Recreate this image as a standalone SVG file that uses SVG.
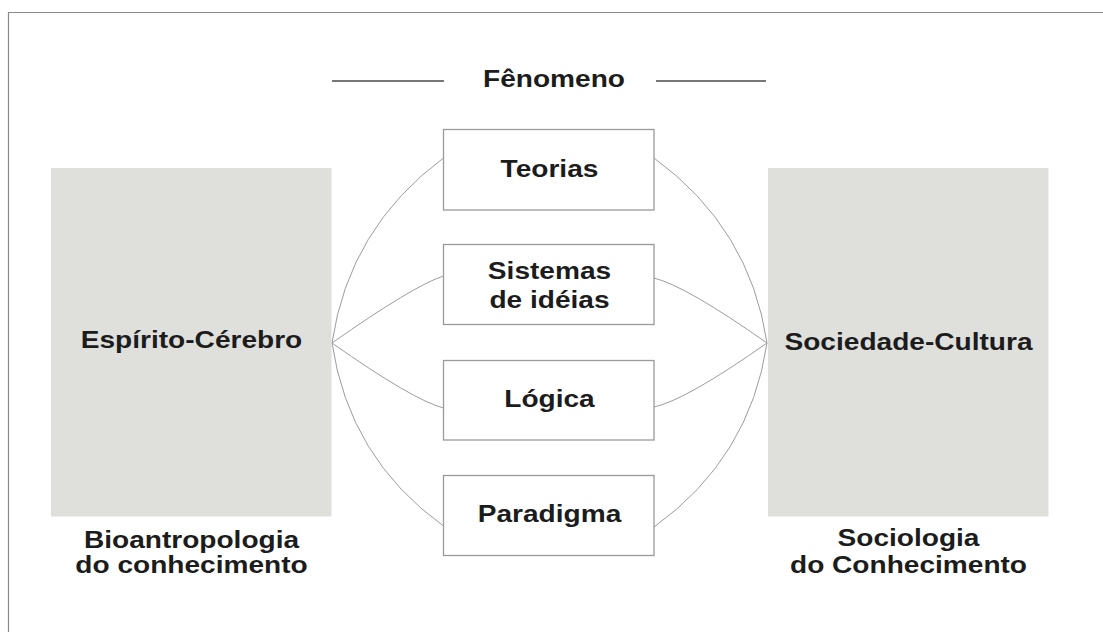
<svg xmlns="http://www.w3.org/2000/svg" width="1103" height="632" viewBox="0 0 1103 632">
<style>
.t{font-family:"Liberation Sans",Arial,sans-serif;font-weight:bold;font-size:24px;fill:#1c1c1c;text-anchor:middle}
.big{fill:#dfdfdc}
.box{fill:#fff;stroke:#9a9a9a;stroke-width:1.3}
.c{fill:none;stroke:#9c9c9c;stroke-width:1}
</style>
<rect width="1103" height="632" fill="#fff"/>
<path d="M8.5,632 V12.5 H1103" fill="none" stroke="#8a8a8a" stroke-width="1.2"/>
<g id="fenomeno">
<line x1="332" y1="81" x2="444" y2="81" stroke="#777" stroke-width="2"/>
<line x1="656" y1="81" x2="766" y2="81" stroke="#777" stroke-width="2"/>
<text class="t" transform="translate(554,87) scale(1.17,1)">Fênomeno</text>
</g>
<g id="connectors">
<path class="c" d="M332,343 Q349,228 443.5,158"/>
<path class="c" d="M332,343 Q413,286 443.5,276"/>
<path class="c" d="M332,343 Q413,400 443.5,408"/>
<path class="c" d="M332,343 Q349,458 443.5,526"/>
<path class="c" d="M767,343 Q750,228 654,158"/>
<path class="c" d="M767,343 Q686,286 654,278"/>
<path class="c" d="M767,343 Q686,400 654,407"/>
<path class="c" d="M767,343 Q750,458 654,527"/>
</g>
<g id="espirito">
<rect class="big" x="51" y="168" width="280.5" height="348.5"/>
<text class="t" transform="translate(191.5,348) scale(1.17,1)">Espírito-Cérebro</text>
</g>
<g id="bioantropologia">
<text class="t" transform="translate(191.5,548) scale(1.17,1)">Bioantropologia</text>
<text class="t" transform="translate(191.5,573) scale(1.17,1)">do conhecimento</text>
</g>
<g id="sociedade">
<rect class="big" x="768" y="168" width="280.5" height="348.5"/>
<text class="t" transform="translate(908.5,350) scale(1.17,1)">Sociedade-Cultura</text>
</g>
<g id="sociologia">
<text class="t" transform="translate(908.5,546) scale(1.17,1)">Sociologia</text>
<text class="t" transform="translate(908.5,573) scale(1.17,1)">do Conhecimento</text>
</g>
<g id="teorias">
<rect class="box" x="443.5" y="129.5" width="210.5" height="80.5"/>
<text class="t" transform="translate(549.5,177) scale(1.17,1)">Teorias</text>
</g>
<g id="sistemas">
<rect class="box" x="443.5" y="244.5" width="210.5" height="80"/>
<text class="t" transform="translate(549.5,279) scale(1.17,1)">Sistemas</text>
<text class="t" transform="translate(549.5,308) scale(1.17,1)">de idéias</text>
</g>
<g id="logica">
<rect class="box" x="443.5" y="360.5" width="210.5" height="79.5"/>
<text class="t" transform="translate(549.5,407) scale(1.17,1)">Lógica</text>
</g>
<g id="paradigma">
<rect class="box" x="443.5" y="475.5" width="210.5" height="80"/>
<text class="t" transform="translate(549.5,522) scale(1.17,1)">Paradigma</text>
</g>
</svg>
